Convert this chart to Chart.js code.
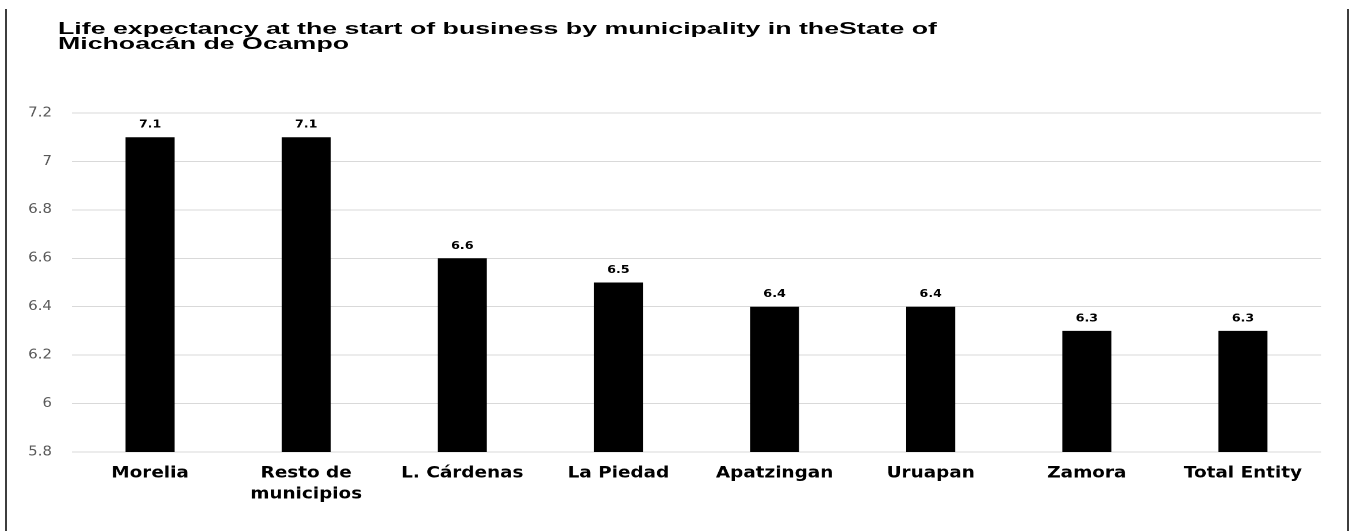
<!DOCTYPE html>
<html>
<head>
<meta charset="utf-8">
<script src="https://cdn.jsdelivr.net/npm/chart.js@4/dist/chart.umd.min.js"></script>
<style>
  html, body { margin: 0; padding: 0; background: #fff; }
  body { width: 1350px; height: 531px; position: relative; overflow: hidden; }
  #frame {
    position: absolute; left: 5px; top: 9px; width: 1340px; height: 540px;
    border-left: 2px solid #3d3d3d; border-right: 2px solid #3d3d3d;
  }
  #title {
    position: absolute; left: 58px; top: 21px; white-space: nowrap;
    font: bold 16px "Liberation Sans", Arial, sans-serif; line-height: 15px; color: #000;
    transform: scaleX(1.67); transform-origin: 0 0;
  }
  /* chart is laid out narrower and stretched to the full width */
  #wrap {
    position: absolute; left: 0; top: 0; width: 1174px; height: 531px;
    transform: scaleX(1.15); transform-origin: 0 0;
  }
</style>
</head>
<body>
<div id="frame"></div>
<div id="wrap"><canvas id="chart" width="1174" height="531" style="width:1174px;height:531px"></canvas></div>
<div id="title">Life expectancy at the start of business by municipality in theState of<br>Michoacán de Ocampo</div>
<script>
const categories = ["Morelia", ["Resto de", "municipios"], "L. Cárdenas", "La Piedad", "Apatzingan", "Uruapan", "Zamora", "Total Entity"];
const lifeExpectancy = [7.1, 7.1, 6.6, 6.5, 6.4, 6.4, 6.3, 6.3];
const yTicks = [5.8, 6, 6.2, 6.4, 6.6, 6.8, 7, 7.2];

// value labels above each bar
const barValues = {
  id: "barValues",
  afterDatasetsDraw(chart) {
    const ctx = chart.ctx;
    const meta = chart.getDatasetMeta(0);
    ctx.save();
    ctx.font = "bold 11px 'DejaVu Sans', sans-serif";
    ctx.fillStyle = "#000";
    ctx.textAlign = "center";
    ctx.textBaseline = "alphabetic";
    meta.data.forEach((bar, i) => {
      ctx.fillText(String(chart.data.datasets[0].data[i]), bar.x, bar.y - 9.5);
    });
    ctx.restore();
  },
};

new Chart(document.getElementById("chart"), {
  type: "bar",
  data: {
    labels: categories,
    datasets: [{
      data: lifeExpectancy,
      backgroundColor: "#000",
      borderWidth: 0,
      barPercentage: 1,
      categoryPercentage: 0.314,
    }],
  },
  options: {
    responsive: false,
    devicePixelRatio: 2,
    animation: false,
    layout: { padding: { top: 113, right: 25.3, left: 0, bottom: 0 } },
    plugins: { legend: { display: false }, tooltip: { enabled: false } },
    scales: {
      x: {
        grid: { display: false, drawTicks: false },
        border: { display: false },
        ticks: {
          padding: 11,
          color: "#000",
          font: { family: "'DejaVu Sans', sans-serif", size: 16, weight: "bold", lineHeight: 1.3 },
          maxRotation: 0,
          autoSkip: false,
        },
        afterFit: (s) => { s.height = 79; },
      },
      y: {
        min: 5.8,
        max: 7.2,
        grid: { color: "#d9d9d9", lineWidth: 1, drawTicks: false },
        border: { display: false },
        ticks: {
          padding: 17.4,
          color: "#595959",
          font: { family: "'DejaVu Sans', sans-serif", size: 13 },
          callback: (v) => String(Math.round(v * 10) / 10),
        },
        afterBuildTicks: (s) => { s.ticks = yTicks.map((v) => ({ value: v })); },
        afterFit: (s) => { s.width = 62.6; },
      },
    },
  },
  plugins: [barValues],
});
</script>
</body>
</html>
